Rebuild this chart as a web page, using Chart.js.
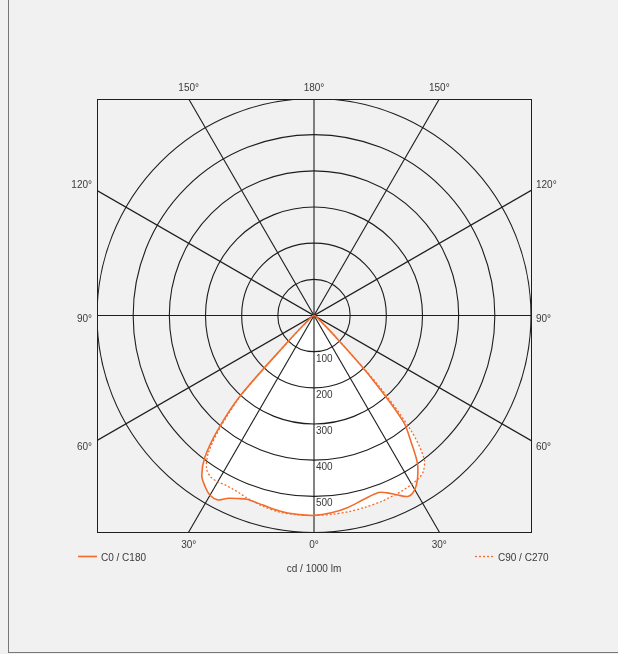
<!DOCTYPE html>
<html>
<head>
<meta charset="utf-8">
<script src="https://cdn.jsdelivr.net/npm/chart.js@4.4.0/dist/chart.umd.min.js"></script>
<style>
html, body { margin: 0; padding: 0; background: #f0f1f0; }
#wrap { position: relative; width: 618px; height: 654px; overflow: hidden; }
#frame { position: absolute; left: 8px; top: 0; width: 700px; height: 652px; border-left: 1px solid #777; border-bottom: 1px solid #777; }
canvas { position: absolute; left: 0; top: 0; }
</style>
</head>
<body>
<div id="wrap">
  <div id="frame"></div>
  <canvas id="lightChart" width="618" height="654"></canvas>
</div>
<script>
// gamma angles (deg from nadir) and intensities in cd / 1000 lm
const gamma = [0, 5, 10, 15, 20, 22.5, 25, 27.5, 30, 32.5, 35, 37.5, 40, 42.5, 45, 47.5, 50, 60, 70, 80, 90];
const c0   = [554, 549, 540, 528, 522, 532, 549, 565, 557, 533, 498, 440, 385, 233, 90, 40, 22, 8, 3, 1, 0];
const c180 = [554, 553, 550, 544, 542, 549, 559, 576, 575, 561, 541, 496, 413, 300, 95, 40, 22, 8, 3, 1, 0];
const c90  = [554, 553, 552, 550, 548, 546, 545, 543, 540, 537, 527, 500, 420, 270, 88, 40, 22, 8, 3, 1, 0];
const c270 = [554, 554, 553, 547, 539, 534, 531, 530, 532, 531, 518, 480, 400, 290, 92, 40, 22, 8, 3, 1, 0];

const ringValues = [100, 200, 300, 400, 500, 600];
const ringLabels = ['100', '200', '300', '400', '500'];
const spokeAngles = [0, 30, 60, 90, 120, 150];
const topLabels = ['150°', '180°', '150°'];
const bottomLabels = ['30°', '0°', '30°'];
const sideLabels = ['120°', '90°', '60°'];
const seriesNames = ['C0 / C180', 'C90 / C270'];
const unitLabel = 'cd / 1000 lm';
const maxValue = 600;

const orange = '#f26c2c';
const gridColor = '#1e1e1e';
const textColor = '#3a3a3a';
const font = '10px "Liberation Sans", Arial, sans-serif';

// left half-plane first (90 -> 0), then right half-plane (0 -> 90)
function polarPoints(left, right) {
    const pts = [];
    for (let i = gamma.length - 1; i >= 0; i--) {
        const a = gamma[i] * Math.PI / 180;
        pts.push({x: -left[i] * Math.sin(a), y: -left[i] * Math.cos(a)});
    }
    for (let i = 1; i < gamma.length; i++) {
        const a = gamma[i] * Math.PI / 180;
        pts.push({x: right[i] * Math.sin(a), y: -right[i] * Math.cos(a)});
    }
    return pts;
}

const polarGrid = {
    id: 'polarGrid',
    beforeDatasetsDraw(chart) {
        const {ctx, chartArea: area, scales: {x, y}} = chart;
        const cx = x.getPixelForValue(0), cy = y.getPixelForValue(0);
        ctx.save();
        ctx.beginPath();
        ctx.rect(area.left, area.top, area.width, area.height);
        ctx.clip();
        ctx.strokeStyle = gridColor;
        ctx.lineWidth = 1.1;
        ringValues.forEach(v => {
            const r = x.getPixelForValue(v) - cx;
            ctx.beginPath();
            ctx.arc(cx, cy, r, 0, Math.PI * 2);
            ctx.stroke();
        });
        spokeAngles.forEach(deg => {
            const a = deg * Math.PI / 180;
            const dx = Math.sin(a) * 2 * maxValue, dy = Math.cos(a) * 2 * maxValue;
            ctx.beginPath();
            ctx.moveTo(x.getPixelForValue(-dx), y.getPixelForValue(-dy));
            ctx.lineTo(x.getPixelForValue(dx), y.getPixelForValue(dy));
            ctx.stroke();
        });
        ctx.restore();
        ctx.save();
        ctx.strokeStyle = gridColor;
        ctx.lineWidth = 1;
        ctx.strokeRect(Math.round(area.left) + 0.5, Math.round(area.top) + 0.5,
                       Math.round(area.width), Math.round(area.height));
        ctx.restore();
    },
    afterDraw(chart) {
        const {ctx, chartArea: area, scales: {x, y}} = chart;
        const cx = x.getPixelForValue(0), cy = y.getPixelForValue(0);
        const off = maxValue * Math.tan(Math.PI / 6);
        ctx.save();
        ctx.font = font;
        ctx.fillStyle = textColor;
        ctx.textBaseline = 'alphabetic';

        // ring values
        ctx.textAlign = 'left';
        ringLabels.forEach((t, i) => {
            ctx.fillText(t, cx + 2, y.getPixelForValue(-ringValues[i]) + 10.5);
        });

        // angles along top and bottom
        ctx.textAlign = 'center';
        [-off, 0, off].forEach((v, i) => {
            ctx.fillText(topLabels[i], x.getPixelForValue(v), area.top - 8);
            ctx.fillText(bottomLabels[i], x.getPixelForValue(v), area.bottom + 16);
        });

        // angles along the sides
        const sideY = [y.getPixelForValue(off) - 3, cy + 6, y.getPixelForValue(-off) + 10];
        sideLabels.forEach((t, i) => {
            ctx.textAlign = 'right';
            ctx.fillText(t, area.left - 5, sideY[i]);
            ctx.textAlign = 'left';
            ctx.fillText(t, area.right + 5, sideY[i]);
        });

        // legend
        const ly = area.bottom + 24.5;
        ctx.strokeStyle = orange;
        ctx.lineWidth = 1.6;
        ctx.beginPath();
        ctx.moveTo(78, ly);
        ctx.lineTo(97, ly);
        ctx.stroke();
        ctx.lineWidth = 1.3;
        ctx.setLineDash([2, 2]);
        ctx.beginPath();
        ctx.moveTo(475, ly);
        ctx.lineTo(495, ly);
        ctx.stroke();
        ctx.setLineDash([]);
        ctx.textAlign = 'left';
        ctx.fillText(seriesNames[0], 101, ly + 4.5);
        ctx.fillText(seriesNames[1], 498, ly + 4.5);
        ctx.textAlign = 'center';
        ctx.fillText(unitLabel, cx, ly + 15.5);
        ctx.restore();
    }
};

new Chart(document.getElementById('lightChart'), {
    type: 'scatter',
    data: {
        datasets: [{
            label: seriesNames[0],
            data: polarPoints(c180, c0),
            showLine: true,
            borderColor: orange,
            borderWidth: 1.6,
            backgroundColor: '#ffffff',
            fill: 'shape',
            pointRadius: 0,
            tension: 0.3
        }, {
            label: seriesNames[1],
            data: polarPoints(c270, c90),
            showLine: true,
            borderColor: orange,
            borderWidth: 1.3,
            borderDash: [2, 2],
            backgroundColor: '#ffffff',
            fill: 'shape',
            pointRadius: 0,
            tension: 0.3
        }]
    },
    options: {
        responsive: false,
        animation: false,
        layout: { padding: { left: 97, right: 87, top: 99, bottom: 122 } },
        scales: {
            x: { type: 'linear', min: -maxValue, max: maxValue, display: false },
            y: { type: 'linear', min: -maxValue, max: maxValue, display: false }
        },
        plugins: {
            legend: { display: false },
            tooltip: { enabled: false },
            filler: { drawTime: 'beforeDatasetsDraw' }
        }
    },
    plugins: [polarGrid]
});
</script>
</body>
</html>
